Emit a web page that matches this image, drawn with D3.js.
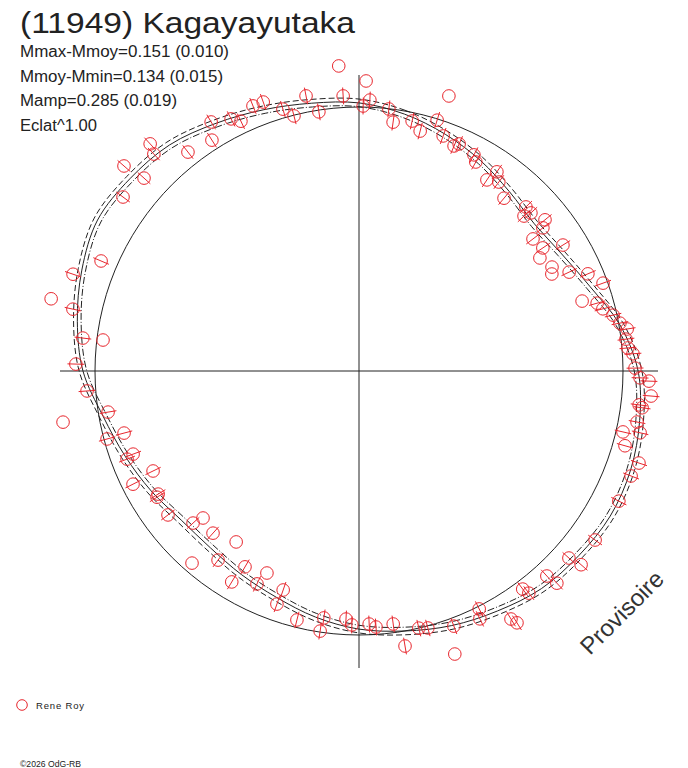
<!DOCTYPE html>
<html>
<head>
<meta charset="utf-8">
<script src="https://cdn.jsdelivr.net/npm/d3@7"></script>
<style>
  body { margin: 0; background: #fff; }
  svg { display: block; }
</style>
</head>
<body>
<svg width="688" height="768"></svg>
<script>
// observations: rotation phase (deg, clockwise from top) and magnitude offset from Mmoy (positive = brighter)
const phaseDeg = [356.2,1.4,356.7,0.9,349.1,351.2,345.7,343.8,340.4,338.2,
  334.7,333.1,329.3,327.5,322.0,317.4,316.6,311.1,311.9,306.4,
  293.1,288.7,283.2,282.2,276.8,276.9,271.4,265.8,260.2,260.7,
  255.2,254.9,249.8,249.2,244.1,243.4,238.5,238.0,233.0,227.5,
  226.7,222.0,215.7,221.0,216.7,210.2,204.5,211.1,205.6,199.1,
  199.4,194.0,188.1,188.5,183.0,181.6,177.7,176.2,172.3,170.5,
  166.9,165.0,159.6,161.3,153.2,154.0,148.5,147.9,143.1,142.6,
  137.5,137.0,131.7,131.1,125.6,116.6,111.1,108.2,105.7,103.0,
  102.4,100.4,96.9,97.4,94.9,92.0,91.4,89.4,86.4,85.1,
  83.2,81.1,79.6,77.6,75.7,74.1,72.6,70.2,67.0,64.8,
  61.7,63.3,58.3,58.0,56.2,52.8,52.1,50.9,47.4,46.8,
  45.5,40.0,36.5,33.8,34.7,29.2,28.0,23.8,22.9,19.7,
  14.3,17.3,12.0,7.8,6.5,2.3,18.1];
const deltaMag = [0.163,0.102,0.045,0.004,0.063,-0.007,-0.003,0.034,0.084,0.084,
  0.048,0.073,0.100,0.038,0.054,0.174,0.135,0.187,0.097,0.114,
  0.064,0.148,0.204,0.112,0.055,-0.024,0.075,0.034,0.142,-0.038,
  -0.082,-0.012,-0.091,-0.062,-0.137,-0.044,-0.111,-0.101,-0.097,-0.152,
  -0.194,-0.179,-0.209,-0.037,-0.110,-0.146,-0.164,-0.069,-0.109,-0.126,
  -0.066,-0.029,-0.057,-0.004,-0.061,-0.039,-0.042,-0.029,-0.034,0.058,
  0.000,0.008,0.032,0.136,0.010,0.046,0.105,0.130,0.034,0.061,
  0.055,0.102,0.067,0.120,0.103,0.104,0.108,0.120,0.048,0.027,
  0.093,0.073,0.071,0.084,0.114,0.102,0.067,0.047,0.041,0.023,
  0.019,0.029,0.005,-0.015,-0.048,-0.064,-0.118,-0.018,-0.060,-0.124,
  -0.175,-0.188,-0.095,-0.198,-0.167,-0.178,-0.121,-0.095,-0.119,-0.147,
  -0.117,-0.150,-0.113,-0.133,-0.085,-0.096,-0.075,-0.062,-0.077,-0.056,
  -0.064,-0.005,-0.033,-0.050,-0.001,0.028,0.099];
// error bars (0 = rejected point, drawn without bar)
const magErr = [0,0,.033,.033,.033,.033,.033,.033,.033,.033,
  .033,.033,.033,.033,.033,.033,.033,.033,.033,.033,
  .033,.033,0,.033,.033,0,.033,.033,0,.033,
  .033,.033,.033,.033,.033,.033,.033,.033,.033,.033,
  0,.033,0,0,.033,.033,0,.033,.033,.033,
  .033,.033,.033,.033,.033,.033,.033,.033,.033,.033,
  .033,.033,.033,0,.033,.033,.033,.033,.033,.033,
  .033,.033,.033,.033,.033,.033,.033,.033,.033,.033,
  .033,.033,.033,.033,.033,.033,.033,.033,.033,.033,
  .033,.033,.033,.033,.033,.033,0,.033,.033,.033,
  0,0,.033,0,.033,.033,.033,.033,.033,.033,
  .033,.033,.033,.033,.033,.033,.033,.033,.033,.033,
  .033,.033,.033,.033,.033,.033,0];

// fitted model and its two envelopes
const modelPhase = [0,10,20,30,40,50,60,70,80,90,100,110,120,130,140,150,160,170,
  180,190,200,210,220,230,240,250,260,270,280,290,300,310,320,330,340,350];
const modelMag = [0.016,-0.012,-0.047,-0.082,-0.117,-0.137,-0.117,-0.070,0.004,0.059,0.082,0.098,
  0.102,0.090,0.078,0.051,0.027,0.000,-0.023,-0.055,-0.090,-0.113,-0.129,-0.125,
  -0.094,-0.059,-0.016,0.047,0.086,0.121,0.148,0.137,0.121,0.086,0.055,0.031];
const modelHi = [0.031,0.003,-0.032,-0.067,-0.102,-0.122,-0.102,-0.055,0.019,0.074,0.097,0.113,
  0.117,0.105,0.093,0.066,0.042,0.015,-0.008,-0.040,-0.075,-0.098,-0.114,-0.110,
  -0.079,-0.044,-0.001,0.062,0.101,0.136,0.163,0.152,0.136,0.101,0.070,0.046];
const modelLo = [0.001,-0.027,-0.062,-0.097,-0.132,-0.152,-0.132,-0.085,-0.011,0.044,0.067,0.083,
  0.087,0.075,0.063,0.036,0.012,-0.015,-0.038,-0.070,-0.105,-0.128,-0.144,-0.140,
  -0.109,-0.074,-0.031,0.032,0.071,0.106,0.133,0.122,0.106,0.071,0.040,0.016];

const titleText = "(11949) Kagayayutaka";
const statLines = ["Mmax-Mmoy=0.151 (0.010)", "Mmoy-Mmin=0.134 (0.015)", "Mamp=0.285 (0.019)", "Eclat^1.00"];
const observers = ["Rene Roy"];

const svg = d3.select("svg");
const ink = "#222", red = "#e8262d";
const cx = 359, cy = 371;

const ang = d3.scaleLinear().domain([0, 360]).range([0, 2 * Math.PI]);
const rad = d3.scaleLinear().domain([0, 0.2]).range([264, 315.2]);

const plot = svg.append("g").attr("transform", `translate(${cx},${cy})`);

// cross axes
plot.append("line").attr("x1", -299).attr("x2", 299).attr("y1", 0).attr("y2", 0)
  .attr("stroke", ink).attr("stroke-width", 1);
plot.append("line").attr("x1", 0).attr("x2", 0).attr("y1", -296).attr("y2", 297)
  .attr("stroke", ink).attr("stroke-width", 1);

// mean brightness circle
plot.append("circle").attr("r", rad(0))
  .attr("fill", "none").attr("stroke", ink).attr("stroke-width", 1);

// model curves
const radial = d3.lineRadial()
  .angle(d => ang(d[0]))
  .radius(d => rad(d[1]))
  .curve(d3.curveCatmullRomClosed);

const curves = [
  { vals: modelMag, dash: null },
  { vals: modelHi, dash: "6,3" },
  { vals: modelLo, dash: "7,2,1,2" }
];
curves.forEach(c => {
  plot.append("path")
    .attr("d", radial(modelPhase.map((p, i) => [p, c.vals[i]])))
    .attr("fill", "none")
    .attr("stroke", ink)
    .attr("stroke-width", 1)
    .attr("stroke-dasharray", c.dash);
});

// observations
const obs = phaseDeg.map((p, i) => ({ p, m: deltaMag[i], e: magErr[i] }));

plot.selectAll("line.err")
  .data(obs.filter(d => d.e > 0))
  .join("line")
  .attr("class", "err")
  .each(function (d) {
    const a = d3.pointRadial(ang(d.p), rad(d.m - d.e));
    const b = d3.pointRadial(ang(d.p), rad(d.m + d.e));
    d3.select(this).attr("x1", a[0]).attr("y1", a[1]).attr("x2", b[0]).attr("y2", b[1]);
  })
  .attr("stroke", red).attr("stroke-width", 1);

plot.selectAll("circle.obs")
  .data(obs)
  .join("circle")
  .attr("class", "obs")
  .attr("cx", d => d3.pointRadial(ang(d.p), rad(d.m))[0])
  .attr("cy", d => d3.pointRadial(ang(d.p), rad(d.m))[1])
  .attr("r", 6.3)
  .attr("fill", "none")
  .attr("stroke", red)
  .attr("stroke-width", 1);

// texts
const font = "'Liberation Sans', Arial, sans-serif";
svg.append("text").attr("x", 20).attr("y", 33)
  .attr("font-family", font).attr("font-size", 30).attr("fill", ink)
  .attr("textLength", 335).attr("lengthAdjust", "spacingAndGlyphs")
  .text(titleText);

const statY = [57, 82, 106, 131];
const statW = [209, 203, 157, 77];
svg.selectAll("text.stat")
  .data(statLines)
  .join("text")
  .attr("class", "stat")
  .attr("x", 20)
  .attr("y", (d, i) => statY[i])
  .attr("font-family", font).attr("font-size", 16).attr("fill", ink)
  .attr("textLength", (d, i) => statW[i]).attr("lengthAdjust", "spacingAndGlyphs")
  .text(d => d);

svg.append("text")
  .attr("transform", "translate(590,656) rotate(-45)")
  .attr("font-family", font).attr("font-size", 24).attr("fill", "#333")
  .text("Provisoire");

// legend
observers.forEach((name, i) => {
  svg.append("circle").attr("cx", 22).attr("cy", 705 + i * 14).attr("r", 5.3)
    .attr("fill", "none").attr("stroke", red).attr("stroke-width", 1);
  svg.append("text").attr("x", 36).attr("y", 709 + i * 14)
    .attr("font-family", font).attr("font-size", 9.5).attr("fill", ink)
    .attr("textLength", 48).attr("lengthAdjust", "spacing")
    .text(name);
});

svg.append("text").attr("x", 20).attr("y", 767)
  .attr("font-family", font).attr("font-size", 9).attr("fill", ink)
  .attr("textLength", 61).attr("lengthAdjust", "spacingAndGlyphs")
  .text("©2026 OdG-RB");
</script>
</body>
</html>
